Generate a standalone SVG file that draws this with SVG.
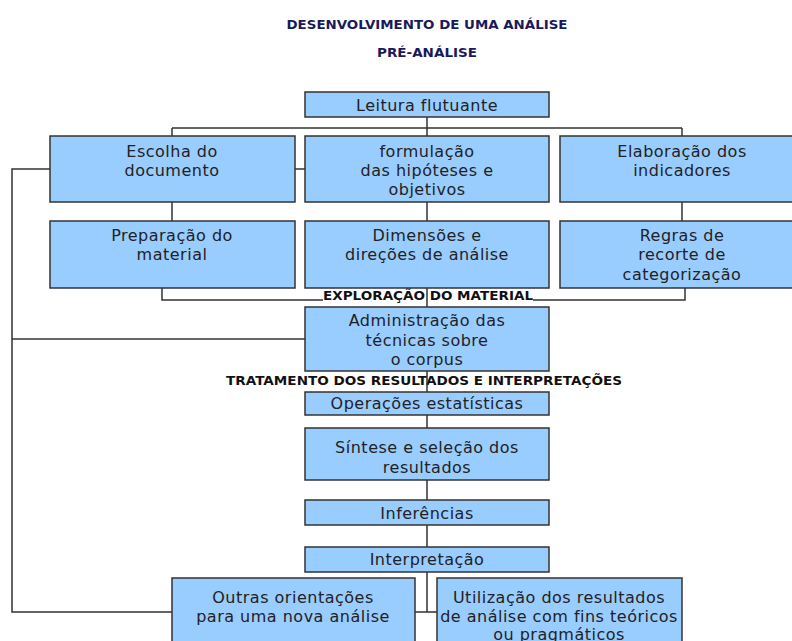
<svg xmlns="http://www.w3.org/2000/svg" width="792" height="641" viewBox="0 0 792 641">
<style>
.box{fill:#99ccff;stroke:#333;stroke-width:1.5}
.t{font-family:"DejaVu Sans","Verdana",sans-serif;font-size:16px;letter-spacing:0.5px;fill:#222;text-anchor:middle}
.h{font-family:"DejaVu Sans","Verdana",sans-serif;font-size:12.5px;font-weight:bold;fill:#1a1a5a;text-anchor:middle}
.hb{font-family:"DejaVu Sans","Verdana",sans-serif;font-size:11.5px;font-weight:bold;fill:#111;text-anchor:middle}
.c{fill:none;stroke:#333;stroke-width:1.5}
</style>
<rect width="792" height="641" fill="#fff"/>
<g id="titles">
<text class="h" x="427" y="29" textLength="281" lengthAdjust="spacingAndGlyphs">DESENVOLVIMENTO DE UMA ANÁLISE</text>
<text class="h" x="427" y="57" textLength="100" lengthAdjust="spacingAndGlyphs">PRÉ-ANÁLISE</text>
</g>
<g id="connectors">
<path class="c" d="M172 128H682M172 128V136M682 128V136M172 202V221M682 202V221M295 169H305"/>
<path class="c" d="M162 288V300H685V288"/>
<path class="c" d="M50 169H12V612H172M12 339H305"/>
</g>
<g id="section-labels">
<rect x="323" y="290" width="210" height="11" fill="#fff"/>
<text class="hb" x="428" y="300" textLength="210" lengthAdjust="spacingAndGlyphs">EXPLORAÇÃO DO MATERIAL</text>
<text class="hb" x="424" y="385" textLength="396" lengthAdjust="spacingAndGlyphs">TRATAMENTO DOS RESULTADOS E INTERPRETAÇÕES</text>
</g>
<g id="connectors-center">
<path class="c" d="M427 117V307M427 371V392M427 415V428M427 480V500M427 525V547M427 572V612M415 612H437"/>
</g>
<g id="leitura"><rect class="box" x="305" y="92" width="244" height="25"/><text class="t" x="427" y="111">Leitura flutuante</text></g>
<g id="escolha"><rect class="box" x="50" y="136" width="245" height="66"/><text class="t" x="172" y="157">Escolha do</text><text class="t" x="172" y="176">documento</text></g>
<g id="formulacao"><rect class="box" x="305" y="136" width="244" height="66"/><text class="t" x="427" y="157">formulação</text><text class="t" x="427" y="176">das hipóteses e</text><text class="t" x="427" y="195">objetivos</text></g>
<g id="elaboracao"><rect class="box" x="560" y="136" width="245" height="66"/><text class="t" x="682" y="157">Elaboração dos</text><text class="t" x="682" y="176">indicadores</text></g>
<g id="preparacao"><rect class="box" x="50" y="221" width="245" height="67"/><text class="t" x="172" y="241">Preparação do</text><text class="t" x="172" y="260">material</text></g>
<g id="dimensoes"><rect class="box" x="305" y="221" width="244" height="67"/><text class="t" x="427" y="241">Dimensões e</text><text class="t" x="427" y="260">direções de análise</text></g>
<g id="regras"><rect class="box" x="560" y="221" width="245" height="67"/><text class="t" x="682" y="241">Regras de</text><text class="t" x="682" y="260">recorte de</text><text class="t" x="682" y="280">categorização</text></g>
<g id="administracao"><rect class="box" x="305" y="307" width="244" height="64"/><text class="t" x="427" y="326">Administração das</text><text class="t" x="427" y="346">técnicas sobre</text><text class="t" x="427" y="365">o corpus</text></g>
<g id="operacoes"><rect class="box" x="305" y="392" width="244" height="23"/><text class="t" x="427" y="409">Operações estatísticas</text></g>
<g id="sintese"><rect class="box" x="305" y="428" width="244" height="52"/><text class="t" x="427" y="453">Síntese e seleção dos</text><text class="t" x="427" y="473">resultados</text></g>
<g id="inferencias"><rect class="box" x="305" y="500" width="244" height="25"/><text class="t" x="427" y="519">Inferências</text></g>
<g id="interpretacao"><rect class="box" x="305" y="547" width="244" height="25"/><text class="t" x="427" y="565">Interpretação</text></g>
<g id="outras"><rect class="box" x="172" y="578" width="243" height="72"/><text class="t" x="293" y="603">Outras orientações</text><text class="t" x="293" y="622">para uma nova análise</text></g>
<g id="utilizacao"><rect class="box" x="437" y="578" width="245" height="72"/><text class="t" x="559" y="603">Utilização dos resultados</text><text class="t" x="559" y="622">de análise com fins teóricos</text><text class="t" x="559" y="640">ou pragmáticos</text></g>
</svg>
